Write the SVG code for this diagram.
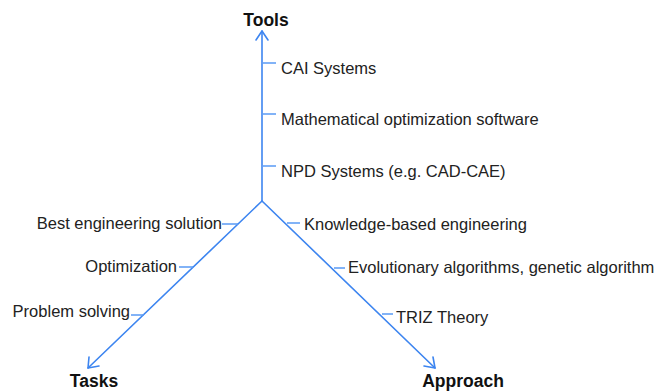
<svg xmlns="http://www.w3.org/2000/svg" width="669" height="392" viewBox="0 0 669 392">
<style>
.ax{stroke:#3d85f0;stroke-width:1.6;fill:none;stroke-linecap:round;stroke-linejoin:round}
.tk{stroke:#5a9af5;stroke-width:1.3;fill:none}
.lb{font-family:"Liberation Sans",Arial,sans-serif;font-size:16.5px;fill:#222}
.tt{font-family:"Liberation Sans",Arial,sans-serif;font-size:17.5px;font-weight:bold;fill:#111}
</style>
<rect width="669" height="392" fill="#fff"/>
<g id="connectors">
<path class="ax" d="M262,201 L262,31"/>
<path class="ax" d="M256,40 L262,31 L268,40"/>
<path class="ax" d="M262,201 L88,368"/>
<path class="ax" d="M89,357 L88,368 L99,366"/>
<path class="ax" d="M262,201 L435,368"/>
<path class="ax" d="M424,366 L435,368 L433,357"/>
<path class="tk" d="M263,63 H276 M263,114 H276 M263,166 H276"/>
<path class="tk" d="M222,224 H238 M179,267 H193 M131,315 H144"/>
<path class="tk" d="M287,223 H300 M334,268 H345 M382,314 H393"/>
</g>
<g id="tools"><text class="tt" x="266" y="26" text-anchor="middle">Tools</text></g>
<g id="tasks"><text class="tt" x="94" y="387" text-anchor="middle">Tasks</text></g>
<g id="approach"><text class="tt" x="463" y="387" text-anchor="middle">Approach</text></g>
<g id="cai"><text class="lb" x="281" y="74">CAI Systems</text></g>
<g id="math"><text class="lb" x="281" y="125">Mathematical optimization software</text></g>
<g id="npd"><text class="lb" x="281" y="177">NPD Systems (e.g. CAD-CAE)</text></g>
<g id="best"><text class="lb" x="222" y="229" text-anchor="end">Best engineering solution</text></g>
<g id="opt"><text class="lb" x="177" y="272" text-anchor="end">Optimization</text></g>
<g id="prob"><text class="lb" x="130" y="317" text-anchor="end">Problem solving</text></g>
<g id="kbe"><text class="lb" x="304" y="230">Knowledge-based engineering</text></g>
<g id="evo"><text class="lb" x="348" y="273">Evolutionary algorithms, genetic algorithm</text></g>
<g id="triz"><text class="lb" x="396" y="323">TRIZ Theory</text></g>
</svg>
